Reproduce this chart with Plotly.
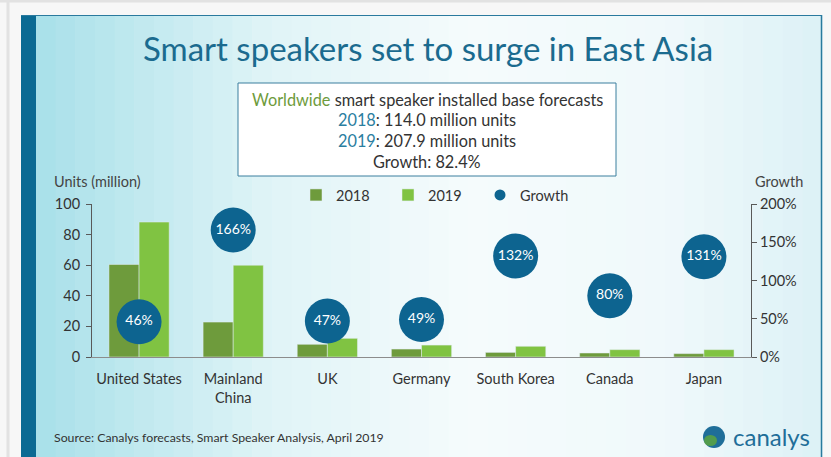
import plotly.graph_objects as go

COUNTRIES = ["United States", "Mainland<br>China", "UK", "Germany", "South Korea", "Canada", "Japan"]
UNITS_2018 = [60.5, 22.8, 8.3, 5.2, 3.0, 2.6, 2.2]
UNITS_2019 = [88.2, 60.0, 12.2, 7.8, 7.0, 4.8, 4.8]
GROWTH = [46, 166, 47, 49, 132, 80, 131]

LEFT_TICKS = [0, 20, 40, 60, 80, 100]
RIGHT_TICKS = [0, 50, 100, 150, 200]
RIGHT_LABELS = ["0%", "50%", "100%", "150%", "200%"]

C_2018 = "#6E9B3C"
C_2019 = "#80C342"
C_BUBBLE = "#0D6490"
C_TITLE = "#1B6B8F"
FONT = "Lato, 'Open Sans', sans-serif"

W, H = 831, 457
ML, MR, MT, MB = 92, 80, 204, 100
PW = W - ML - MR
PH = H - MT - MB


def px(x):
    return (x - ML) / PW


def py(y):
    return (H - MB - y) / PH


fig = go.Figure()

fig.add_trace(go.Bar(x=COUNTRIES, y=UNITS_2018, name="2018", marker_color=C_2018))
fig.add_trace(go.Bar(x=COUNTRIES, y=UNITS_2019, name="2019", marker_color=C_2019))
fig.add_trace(go.Scatter(
    x=COUNTRIES, y=GROWTH, yaxis="y2", mode="markers+text",
    marker=dict(size=45, color=C_BUBBLE),
    text=[f"{g}%" for g in GROWTH], textposition="middle center",
    textfont=dict(color="white", size=14, family=FONT),
    showlegend=False, cliponaxis=False,
))
# legend-only entry with a small dot
fig.add_trace(go.Scatter(x=[None], y=[None], name="Growth", mode="markers",
                         marker=dict(size=11, color=C_BUBBLE)))

# --- background decoration ---
shapes = []
shapes.append(dict(type="line", xref="paper", yref="paper",
                   x0=px(0), x1=px(W), y0=py(1), y1=py(1),
                   line=dict(color="#E2E2E2", width=3), layer="below"))
shapes.append(dict(type="line", xref="paper", yref="paper",
                   x0=px(8), x1=px(8), y0=py(0), y1=py(H),
                   line=dict(color="#E2E2E2", width=3), layer="below"))

stops = [(0.0, (168, 224, 233)), (0.3, (224, 244, 247)), (0.55, (245, 251, 252)),
         (0.8, (240, 249, 251)), (1.0, (220, 241, 246))]


def grad(t):
    for (t0, c0), (t1, c1) in zip(stops[:-1], stops[1:]):
        if t0 <= t <= t1:
            f = (t - t0) / (t1 - t0)
            return "rgb(%d,%d,%d)" % tuple(round(a + (b - a) * f) for a, b in zip(c0, c1))
    return "rgb(%d,%d,%d)" % stops[-1][1]


x_start, x_end, n = 36, 822, 40
step = (x_end - x_start) / n
for i in range(n):
    shapes.append(dict(type="rect", xref="paper", yref="paper",
                       x0=px(x_start + i * step), x1=px(x_start + (i + 1) * step + 0.6),
                       y0=py(H), y1=py(15), fillcolor=grad((i + 0.5) / n),
                       line_width=0, layer="below"))

shapes.append(dict(type="rect", xref="paper", yref="paper",
                   x0=px(21), x1=px(36), y0=py(H), y1=py(15),
                   fillcolor="#0B6A93", line_width=0, layer="below"))
shapes.append(dict(type="line", xref="paper", yref="paper",
                   x0=px(21), x1=px(822), y0=py(15.5), y1=py(15.5),
                   line=dict(color="#2A7A9E", width=1), layer="below"))
shapes.append(dict(type="line", xref="paper", yref="paper",
                   x0=px(821.5), x1=px(821.5), y0=py(15), y1=py(H),
                   line=dict(color="#2A7A9E", width=1.5), layer="below"))

# info box
shapes.append(dict(type="rect", xref="paper", yref="paper",
                   x0=px(238), x1=px(616), y0=py(176), y1=py(83),
                   fillcolor="white", line=dict(color="#3A7E9E", width=1), layer="below"))

# canalys globe
shapes.append(dict(type="circle", xref="paper", yref="paper",
                   x0=px(703), x1=px(725), y0=py(448), y1=py(426),
                   fillcolor="#1F6E99", line_width=0))
shapes.append(dict(type="circle", xref="paper", yref="paper",
                   x0=px(704), x1=px(717), y0=py(446), y1=py(435),
                   fillcolor="#5FA83A", line_width=0, opacity=0.8))

ann = []
ann.append(dict(text="Smart speakers set to surge in East Asia", x=px(428), y=py(48),
                font=dict(size=33, color=C_TITLE, family=FONT)))
ann.append(dict(text="<span style='color:#6E9B3C'>Worldwide</span> smart speaker installed base forecasts",
                x=px(427), y=py(99)))
ann.append(dict(text="<span style='color:#2A7EA0'>2018</span>: 114.0 million units", x=px(427), y=py(120)))
ann.append(dict(text="<span style='color:#2A7EA0'>2019</span>: 207.9 million units", x=px(427), y=py(140)))
ann.append(dict(text="Growth: 82.4%", x=px(427), y=py(161)))
ann.append(dict(text="Units (million)", x=px(52), y=py(181), xanchor="left",
                font=dict(size=14.5, color="#444444", family=FONT)))
ann.append(dict(text="Growth", x=px(805), y=py(181), xanchor="right",
                font=dict(size=14.5, color="#444444", family=FONT)))
ann.append(dict(text="Source: Canalys forecasts, Smart Speaker Analysis, April 2019",
                x=px(52), y=py(437), xanchor="left",
                font=dict(size=12.3, color="#333333", family=FONT)))
ann.append(dict(text="canalys", x=px(731), y=py(436), xanchor="left",
                font=dict(size=24, color="#1F6E99", family=FONT)))
for a in ann:
    a.setdefault("xref", "paper")
    a.setdefault("yref", "paper")
    a.setdefault("showarrow", False)
    a.setdefault("xanchor", "center")
    a.setdefault("yanchor", "middle")
    a.setdefault("font", dict(size=16.3, color="#333333", family=FONT))

fig.update_layout(
    width=W, height=H,
    margin=dict(l=ML, r=MR, t=MT, b=MB),
    paper_bgcolor="#F7F7F7",
    plot_bgcolor="rgba(0,0,0,0)",
    font=dict(family=FONT, size=14, color="#333333"),
    barmode="group", bargap=0.36, bargroupgap=0,
    shapes=shapes, annotations=ann,
    legend=dict(orientation="h", x=px(296), y=py(195), xanchor="left", yanchor="middle",
                bgcolor="rgba(0,0,0,0)", font=dict(size=14.5, color="#333333", family=FONT),
                itemwidth=30, entrywidth=47, traceorder="normal"),
    xaxis=dict(range=[-0.5, 6.5], showline=True, linecolor="#8C8C8C", linewidth=1,
               ticks="", showgrid=False, ticklabelstandoff=9,
               tickfont=dict(size=14.5, color="#333333")),
    yaxis=dict(range=[0, 100], tickvals=LEFT_TICKS, showline=True, linecolor="#595959",
               ticks="outside", ticklen=5, tickcolor="#595959", showgrid=False,
               zeroline=False, ticklabelstandoff=3,
               tickfont=dict(size=14.5, color="#333333")),
    yaxis2=dict(range=[0, 200], tickvals=RIGHT_TICKS, ticktext=RIGHT_LABELS, overlaying="y",
                side="right", showline=True, linecolor="#595959", ticks="outside",
                ticklen=5, tickcolor="#595959", showgrid=False, zeroline=False,
                tickfont=dict(size=14.5, color="#333333")),
)

fig.write_html("out.html", config={"displayModeBar": False},
               post_script="document.body.style.margin='0';"
                           "document.body.style.background='#F7F7F7';")
